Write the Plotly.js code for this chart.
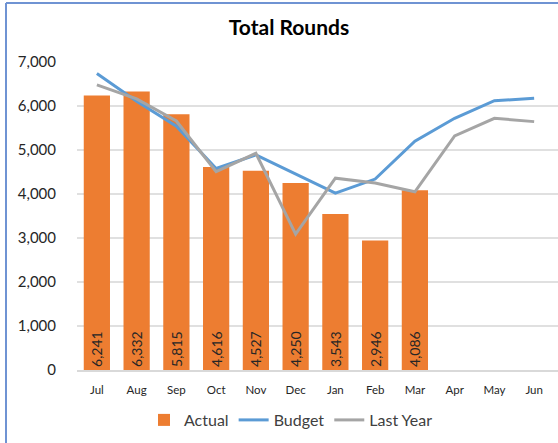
<!DOCTYPE html>
<html>
<head>
<meta charset="utf-8">
<script src="https://cdn.plot.ly/plotly-3.0.1.min.js"></script>
<style>html,body{margin:0;padding:0;background:#fff;}#chart{width:558px;height:443px;}</style>
</head>
<body>
<div id="chart"></div>
<script>
const months = ["Jul","Aug","Sep","Oct","Nov","Dec","Jan","Feb","Mar","Apr","May","Jun"];
const actual = [6241,6332,5815,4616,4527,4250,3543,2946,4086];
const budget = [6740,6110,5540,4580,4890,4450,4020,4340,5200,5720,6120,6175];
const lastYear = [6480,6160,5660,4510,4925,3090,4360,4250,4050,5320,5720,5645];
const yTicks = [0,1000,2000,3000,4000,5000,6000,7000];

const FONT = "Lato, 'Open Sans', sans-serif";

const traces = [
  {
    type: "bar", name: "Actual",
    x: months.slice(0, actual.length), y: actual,
    marker: {color: "#ED7D31"},
    width: 0.66,
    text: actual.map(v => v.toLocaleString("en-US")),
    textposition: "inside", insidetextanchor: "start", textangle: -90,
    textfont: {family: FONT, size: 14, color: "#262626"},
    hoverinfo: "skip"
  },
  {
    type: "scatter", mode: "lines", name: "Budget",
    x: months, y: budget,
    line: {color: "#5B9BD5", width: 3},
    hoverinfo: "skip"
  },
  {
    type: "scatter", mode: "lines", name: "Last Year",
    x: months, y: lastYear,
    line: {color: "#A5A5A5", width: 3},
    hoverinfo: "skip"
  }
];

const layout = {
  width: 558, height: 443,
  margin: {l: 77, r: 0, t: 62, b: 73},
  paper_bgcolor: "#fff", plot_bgcolor: "#fff",
  font: {family: FONT, color: "#404040"},
  title: {text: "<b>Total Rounds</b>", font: {family: FONT, size: 21, color: "#000"},
          x: 289/558, xref: "container", xanchor: "center", y: 1 - 28/443, yref: "container", yanchor: "middle"},
  showlegend: true,
  legend: {orientation: "h", x: 291/558, xref: "container", xanchor: "center",
           y: 1 - 420/443, yref: "container", yanchor: "middle",
           font: {family: FONT, size: 16, color: "#404040"}, traceorder: "normal",
           itemwidth: 30},
  bargap: 0.34,
  xaxis: {
    type: "category", categoryorder: "array", categoryarray: months,
    range: [-0.5, 11.6],
    showgrid: false, showline: true, linecolor: "#D9D9D9", linewidth: 2,
    ticks: "", ticklabelstandoff: 8,
    tickfont: {family: FONT, size: 11.5, color: "#262626"},
    fixedrange: true
  },
  yaxis: {
    range: [0, 7000], tickvals: yTicks,
    ticktext: yTicks.map(v => v.toLocaleString("en-US")),
    showgrid: true, gridcolor: "#E0E0E0", gridwidth: 1.5,
    zeroline: false, showline: false, ticks: "",
    ticklabelstandoff: 20,
    tickfont: {family: FONT, size: 15, color: "#262626"},
    fixedrange: true
  },
  shapes: [
    {type: "line", xref: "paper", yref: "paper", x0: (6-77)/481, x1: (6-77)/481, y0: (370-3)/308, y1: (370-445)/308,
     line: {color: "#6F93D3", width: 2}},
    {type: "line", xref: "paper", yref: "paper", x0: (6-77)/481, x1: 1.02, y0: (370-3)/308, y1: (370-3)/308,
     line: {color: "#6F93D3", width: 2}}
  ]
};

Plotly.newPlot("chart", traces, layout, {staticPlot: true, displayModeBar: false});
</script>
</body>
</html>
